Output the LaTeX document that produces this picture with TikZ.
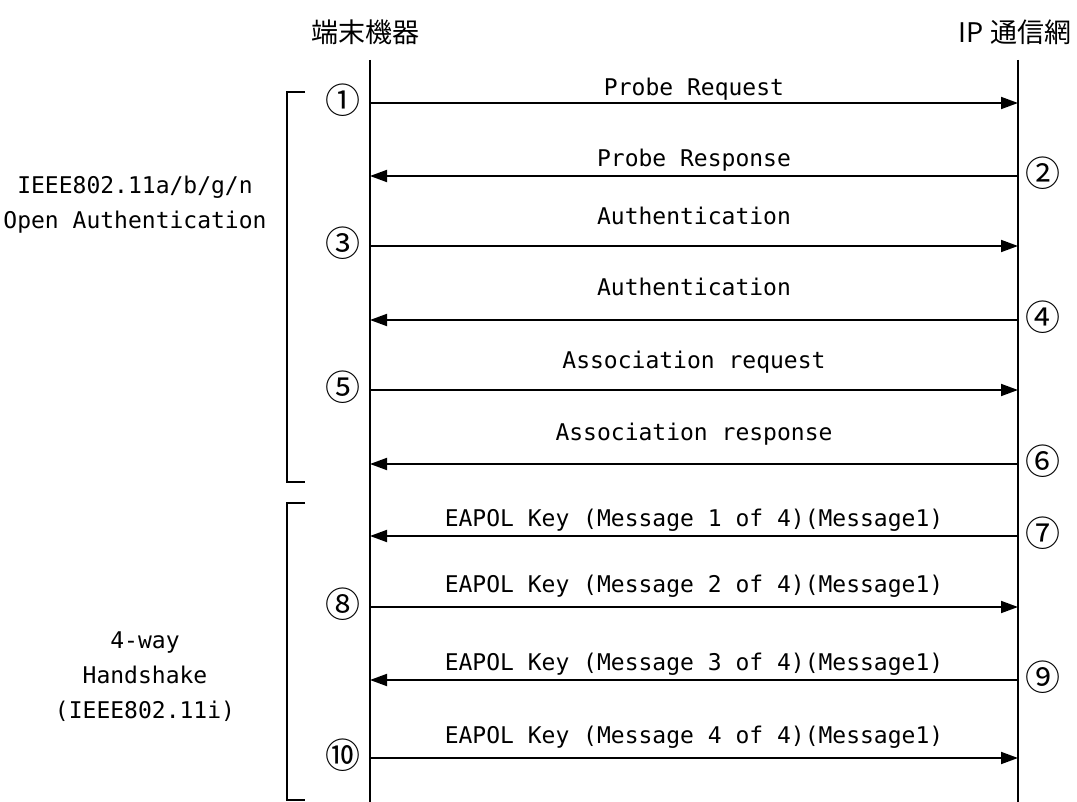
\documentclass[tikz,border=0pt]{standalone}
\usepackage{fontspec}
\setmainfont{DejaVu Sans Mono}
\newfontfamily\jpfont{Noto Sans CJK JP}
\usetikzlibrary{arrows.meta}

\tikzset{
  life/.style={line width=1.8pt},
  msg/.style={line width=1.8pt,-{Triangle[length=17pt,width=12pt]}},
  head/.style={font=\jpfont\fontsize{27}{27}\selectfont},
  num/.style={font=\jpfont\fontsize{35}{35}\selectfont},
  lbl/.style={font=\fontsize{23}{26}\selectfont},
  side/.style={font=\fontsize{23}{35}\selectfont,align=center},
}

\begin{document}
\begin{tikzpicture}[x=1pt,y=-1pt]
    \useasboundingbox (0,0) rectangle (1077,802);
    % lifelines
    \node[head] (dev) at (365,32) {端末機器};
    \node[head] (net) at (1015,32) {IP 通信網};
    \coordinate (devtop) at (370,60);
    \coordinate (devbot) at (370,802);
    \coordinate (nettop) at (1018,60);
    \coordinate (netbot) at (1018,802);
    \draw[life] (devtop) -- (devbot);
    \draw[life] (nettop) -- (netbot);
    % messages: number / arrow y / label y / from / to / circled number x / text
    \foreach \i/\y/\ty/\f/\g/\nx/\n/\t in {
        1/103/89/L/R/343/①/Probe Request,
        2/176/160/R/L/1043/②/Probe Response,
        3/246/216/L/R/343/③/Authentication,
        4/320/287/R/L/1043/④/Authentication,
        5/390/362/L/R/343/⑤/Association request,
        6/464/434/R/L/1043/⑥/Association response,
        7/536/520/R/L/1043/⑦/EAPOL Key (Message 1 of 4)(Message1),
        8/607/586/L/R/343/⑧/EAPOL Key (Message 2 of 4)(Message1),
        9/680/664/R/L/1043/⑨/EAPOL Key (Message 3 of 4)(Message1),
        10/758/737/L/R/343/⑩/EAPOL Key (Message 4 of 4)(Message1)} {
        \coordinate (L\i) at (370,\y);
        \coordinate (R\i) at (1018,\y);
        \draw[msg] (\f\i) -- (\g\i);
        \node[lbl] (t\i) at (694,\ty) {\t};
        \node[num] (n\i) at (\nx,\y-3) {\n};
    }
    % phases
    \draw[life] (305,92) -| (287,482) -- (305,482);
    \draw[life] (305,503) -| (287,800) -- (305,800);
    \node[side] (open) at (135,205) {IEEE802.11a/b/g/n\\Open Authentication};
    \node[side] (hand) at (145,677) {4-way\\Handshake\\(IEEE802.11i)};
\end{tikzpicture}
\end{document}
